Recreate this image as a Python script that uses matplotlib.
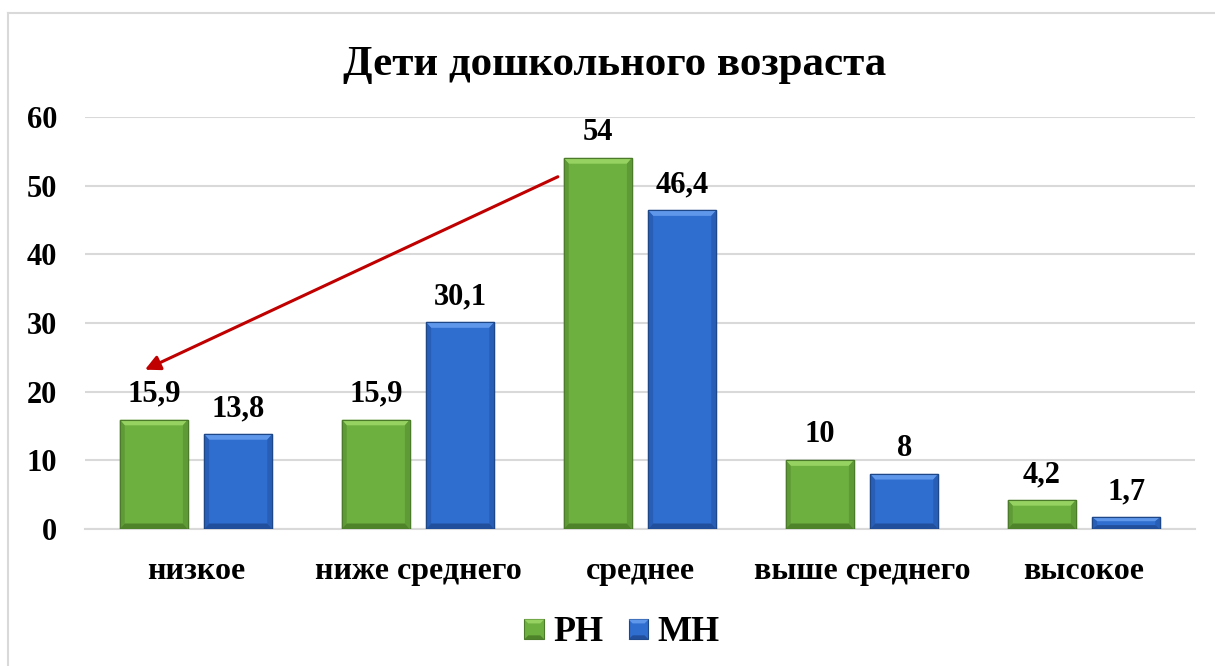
import matplotlib.pyplot as plt
from matplotlib.patches import Polygon, Patch
from matplotlib.lines import Line2D
from matplotlib.legend_handler import HandlerPatch
import numpy as np

# Levels and the two groups
categories = ['низкое', 'ниже среднего', 'среднее', 'выше среднего', 'высокое']
rn_values = [15.9, 15.9, 54, 10, 4.2]
mn_values = [13.8, 30.1, 46.4, 8, 1.7]
rn_labels = ['15,9', '15,9', '54', '10', '4,2']
mn_labels = ['13,8', '30,1', '46,4', '8', '1,7']
series_names = ['РН', 'МН']
yticks = [0, 10, 20, 30, 40, 50, 60]

plt.rcParams['font.family'] = ['Liberation Serif', 'DejaVu Serif']
plt.rcParams['font.weight'] = 'bold'

GREEN = dict(face='#6EB040', top='#96D262', side='#5E9A36', bottom='#4F832A', edge='#4A7A2A')
BLUE = dict(face='#2F6DCF', top='#5F97EA', side='#285EB6', bottom='#214F9C', edge='#1E4788')


def bevel_bar(ax, x, w, h, c, bx=0.022, by=0.8):
    # flat face plus four bevel trapezoids to give the bar a raised look
    x0, x1 = x - w / 2, x + w / 2
    by = min(by, h / 3)
    ax.add_patch(Polygon([(x0, 0), (x1, 0), (x1, h), (x0, h)], closed=True,
                         facecolor=c['face'], edgecolor=c['edge'], lw=1, zorder=3))
    ax.add_patch(Polygon([(x0, h), (x1, h), (x1 - bx, h - by), (x0 + bx, h - by)],
                         closed=True, facecolor=c['top'], lw=0, zorder=4))
    ax.add_patch(Polygon([(x0, 0), (x0 + bx, by), (x0 + bx, h - by), (x0, h)],
                         closed=True, facecolor=c['side'], lw=0, zorder=4))
    ax.add_patch(Polygon([(x1, 0), (x1 - bx, by), (x1 - bx, h - by), (x1, h)],
                         closed=True, facecolor=c['side'], lw=0, zorder=4))
    ax.add_patch(Polygon([(x0, 0), (x1, 0), (x1 - bx, by), (x0 + bx, by)],
                         closed=True, facecolor=c['bottom'], lw=0, zorder=4))
    ax.add_patch(Polygon([(x0, 0), (x1, 0), (x1, h), (x0, h)], closed=True,
                         facecolor='none', edgecolor=c['edge'], lw=0.8, zorder=5))


class BevelHandler(HandlerPatch):
    def create_artists(self, legend, orig_handle, xdescent, ydescent, width, height, fontsize, trans):
        c = orig_handle.colors
        s = width
        x0 = -xdescent
        y0 = -ydescent + (height - s) / 2 - 1
        b = s * 0.2
        arts = [
            Polygon([(x0, y0), (x0 + s, y0), (x0 + s, y0 + s), (x0, y0 + s)], facecolor=c['face'], edgecolor=c['edge'], lw=0.8),
            Polygon([(x0, y0 + s), (x0 + s, y0 + s), (x0 + s - b, y0 + s - b), (x0 + b, y0 + s - b)], facecolor=c['top'], lw=0),
            Polygon([(x0, y0), (x0 + s, y0), (x0 + s - b, y0 + b), (x0 + b, y0 + b)], facecolor=c['bottom'], lw=0),
        ]
        for a in arts:
            a.set_transform(trans)
        return arts


fig = plt.figure(figsize=(12.15, 6.66), dpi=100)
ax = fig.add_axes([85 / 1215, 137 / 666, 1110 / 1215, 412 / 666])

x = np.arange(len(categories))
w = 0.306
off = 0.19
for i in range(len(categories)):
    bevel_bar(ax, x[i] - off, w, rn_values[i], GREEN)
    bevel_bar(ax, x[i] + off, w, mn_values[i], BLUE)
    ax.text(x[i] - off, rn_values[i] + 1.6, rn_labels[i], ha='center', va='bottom',
            fontsize=22, fontweight='bold')
    ax.text(x[i] + off, mn_values[i] + 1.6, mn_labels[i], ha='center', va='bottom',
            fontsize=22, fontweight='bold')

ax.set_xlim(-0.5, len(categories) - 0.5)
ax.set_ylim(0, 60)
ax.set_yticks(yticks)
ax.set_yticklabels([str(t) for t in yticks], fontsize=22, fontweight='bold')
ax.set_xticks(x)
ax.set_xticklabels(categories, fontsize=23, fontweight='bold')
ax.tick_params(axis='y', length=0, pad=20)
ax.tick_params(axis='x', length=0, pad=20)
ax.grid(axis='y', color='#D9D9D9', lw=1.5, zorder=0)
ax.set_axisbelow(True)
for s in ['top', 'right', 'left']:
    ax.spines[s].set_visible(False)
ax.spines['bottom'].set_color('#D9D9D9')
ax.spines['bottom'].set_linewidth(1.5)

# red arrow from the peak down to the low level
ax.annotate('', xy=(-0.23, 23.2), xytext=(1.63, 51.3),
            arrowprops=dict(arrowstyle='-|>,head_length=0.9,head_width=0.45',
                            color='#C00000', lw=2.2, shrinkA=0, shrinkB=0), zorder=6)

fig.text(615 / 1215, 1 - 65 / 666, 'Дети дошкольного возраста', ha='center', va='center',
         fontsize=31, fontweight='bold')

h_rn = Patch(); h_rn.colors = GREEN
h_mn = Patch(); h_mn.colors = BLUE
fig.legend([h_rn, h_mn], series_names, loc='center', bbox_to_anchor=(622 / 1215, 1 - 632 / 666),
           ncol=2, frameon=False, handler_map={Patch: BevelHandler()},
           handlelength=0.55, handletextpad=0.25, columnspacing=0.7,
           prop=dict(weight='bold', size=26))

# outer frame lines along top and left
fig.add_artist(Line2D([8 / 1215, 1], [1 - 13 / 666, 1 - 13 / 666], color='#D9D9D9', lw=1.5))
fig.add_artist(Line2D([8 / 1215, 8 / 1215], [0, 1 - 13 / 666], color='#D9D9D9', lw=1.5))

fig.savefig('out.png', dpi=100)
